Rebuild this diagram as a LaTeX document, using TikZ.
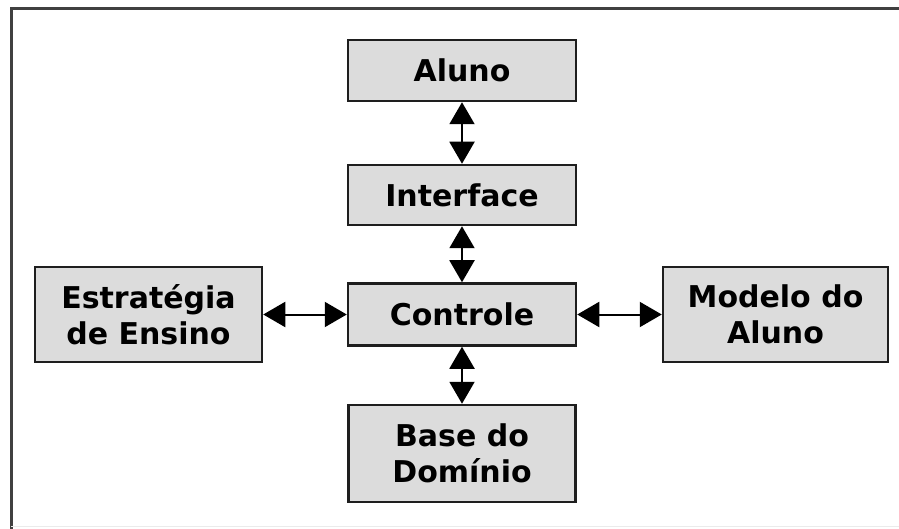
\documentclass[tikz,border=0pt]{standalone}
\usepackage{fontspec}
\setmainfont{DejaVu Sans}
\usetikzlibrary{arrows.meta}
\definecolor{boxfill}{HTML}{DCDCDC}
\definecolor{edge}{HTML}{1E1E1E}
\tikzset{
  blk/.style={draw=edge, line width=2.5pt, fill=boxfill, inner sep=0pt, align=center,
    font=\fontsize{30}{36}\selectfont\bfseries, text=black},
  link/.style={line width=2pt, {Triangle[length=22pt,width=25pt]}-{Triangle[length=22pt,width=25pt]}}
}
\begin{document}
\begin{tikzpicture}[x=1pt,y=-1pt]
\useasboundingbox (0,0) rectangle (899,529);
\draw[line width=3pt, draw=black!75] (901,9) -- (11,9) -- (11,531);
\draw[line width=1pt, draw=black!8] (11,526) -- (901,526);
\node[blk, minimum width=228pt, minimum height=61pt] (aluno) at (462,70.5) {Aluno};
\node[blk, minimum width=228pt, minimum height=60pt] (inter) at (462,195) {Interface};
\node[blk, minimum width=228pt, minimum height=62pt] (ctrl) at (462,314.5) {Controle};
\node[blk, minimum width=227pt, minimum height=95pt] (estr) at (148.5,314.5) {Estratégia\\de Ensino};
\node[blk, minimum width=225pt, minimum height=95pt] (mod) at (775.5,314.5) {Modelo do\\Aluno};
\node[blk, minimum width=227pt, minimum height=97pt] (base) at (462,453.5) {Base do\\Domínio};
\draw[link] (aluno) -- (inter);
\draw[link] (inter) -- (ctrl);
\draw[link] (ctrl) -- (base);
\draw[link] (estr) -- (ctrl);
\draw[link] (ctrl) -- (mod);
\end{tikzpicture}
\end{document}
